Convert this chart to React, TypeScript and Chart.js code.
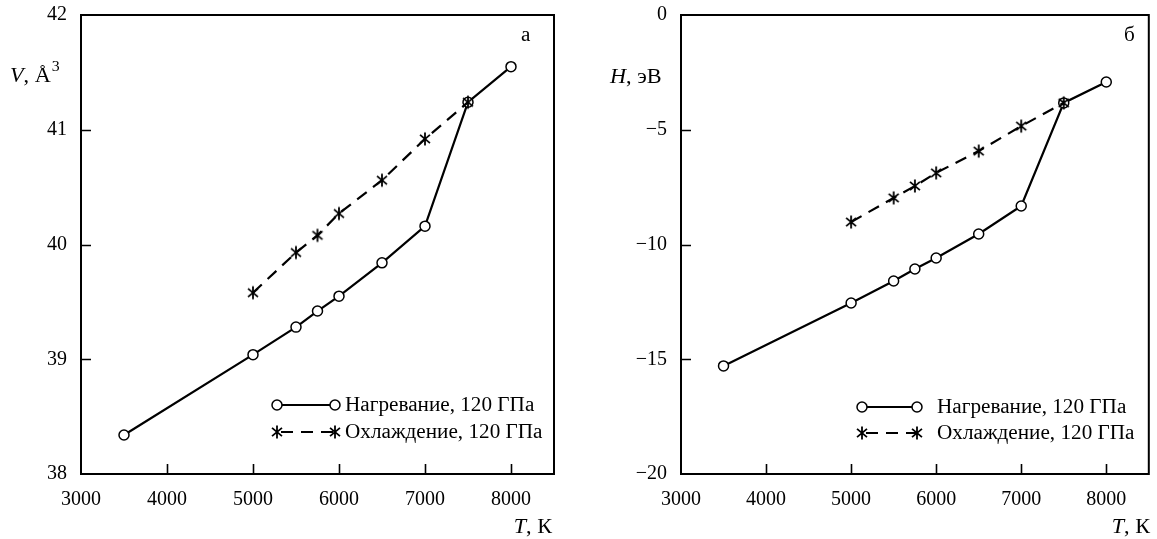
import React, { useEffect, useRef } from "react";
import { Chart, registerables } from "chart.js";

Chart.register(...registerables);

// ---- data ----
const temps = [3500, 5000, 5500, 5750, 6000, 6500, 7000, 7500, 8000];
const heatV = [38.34, 39.04, 39.28, 39.42, 39.55, 39.84, 40.16, 41.24, 41.55];
const coolT = [5000, 5500, 5750, 6000, 6500, 7000, 7500];
const coolV = [39.58, 39.93, 40.08, 40.27, 40.56, 40.92, 41.24];
const heatH = [-15.29, -12.55, -11.59, -11.07, -10.59, -9.54, -8.32, -3.83, -2.92];
const coolH = [-9.02, -7.97, -7.45, -6.88, -5.93, -4.84, -3.83];

const xTicks = [3000, 4000, 5000, 6000, 7000, 8000];
const vTicks = [38, 39, 40, 41, 42];
const hTicks = [-20, -15, -10, -5, 0];

const heatLabel = "Нагревание, 120 ГПа";
const coolLabel = "Охлаждение, 120 ГПа";

const FONT = "Liberation Serif, Times New Roman, serif";
const SX = 1.06;

function makeStar(): HTMLCanvasElement {
  const c = document.createElement("canvas");
  c.width = 16;
  c.height = 16;
  const g = c.getContext("2d")!;
  g.strokeStyle = "#000";
  g.lineWidth = 1.8;
  const cx = 8, cy = 8, r = 6.5;
  const angles = [90, 40, 140];
  g.beginPath();
  for (const a of angles) {
    const rad = (a * Math.PI) / 180;
    g.moveTo(cx - r * Math.cos(rad), cy - r * Math.sin(rad));
    g.lineTo(cx + r * Math.cos(rad), cy + r * Math.sin(rad));
  }
  g.stroke();
  return c;
}

// text drawn with a slight horizontal stretch, like the reference
function stext(ctx: CanvasRenderingContext2D, s: string, x: number, y: number, font: string, align: "left" | "right" = "left") {
  ctx.save();
  ctx.font = font;
  const w = ctx.measureText(s).width * SX;
  const x0 = align === "left" ? x : x - w;
  ctx.translate(x0, y);
  ctx.scale(SX, 1);
  ctx.textAlign = "left";
  ctx.fillText(s, 0, 0);
  ctx.restore();
  return w;
}

type PanelCfg = {
  width: number;
  areaLeft: number;
  areaRight: number;
  heat: number[];
  cool: number[];
  yTicks: number[];
  drawTitle: (ctx: CanvasRenderingContext2D) => void;
  letter: string;
  letterX: number;
  tX: number;
  legend: { x1: number; x2: number; tx: number; y1: number; y2: number };
};

function drawCircle(ctx: CanvasRenderingContext2D, x: number, y: number) {
  ctx.save();
  ctx.beginPath();
  ctx.arc(x, y, 5, 0, Math.PI * 2);
  ctx.fillStyle = "#fff";
  ctx.fill();
  ctx.lineWidth = 1.5;
  ctx.strokeStyle = "#000";
  ctx.stroke();
  ctx.restore();
}

function Panel({ cfg }: { cfg: PanelCfg }) {
  const ref = useRef<HTMLCanvasElement>(null);
  useEffect(() => {
    const star = makeStar();
    const H = 539;
    const fmt = (v: number) => String(v).replace("-", "−");
    const framePlugin = {
      id: "frame",
      afterDraw(chart: any) {
        const ctx: CanvasRenderingContext2D = chart.ctx;
        const a = chart.chartArea;
        const xs = chart.scales.x;
        const ys = chart.scales.y;
        ctx.save();
        ctx.strokeStyle = "#000";
        ctx.lineWidth = 2;
        ctx.strokeRect(a.left, a.top, a.right - a.left, a.bottom - a.top);
        ctx.lineWidth = 1.6;
        ctx.beginPath();
        for (const v of xTicks) {
          const px = Math.round(xs.getPixelForValue(v)) + 0.5;
          if (px <= a.left + 2 || px >= a.right - 2) continue;
          ctx.moveTo(px, a.bottom);
          ctx.lineTo(px, a.bottom - 10);
        }
        for (const v of cfg.yTicks) {
          const py = Math.round(ys.getPixelForValue(v)) + 0.5;
          if (py <= a.top + 2 || py >= a.bottom - 2) continue;
          ctx.moveTo(a.left, py);
          ctx.lineTo(a.left + 10, py);
        }
        ctx.stroke();
        // titles
        ctx.fillStyle = "#000";
        ctx.textBaseline = "alphabetic";
        cfg.drawTitle(ctx);
        stext(ctx, cfg.letter, cfg.letterX, 41, `20px ${FONT}`);
        // T, K
        const w = stext(ctx, ", К", cfg.tX, 533, `21px ${FONT}`, "right");
        stext(ctx, "T", cfg.tX - w, 533, `italic 21px ${FONT}`, "right");
        // legend
        const L = cfg.legend;
        ctx.lineWidth = 2.2;
        ctx.beginPath();
        ctx.moveTo(L.x1, L.y1);
        ctx.lineTo(L.x2, L.y1);
        ctx.stroke();
        drawCircle(ctx, L.x1, L.y1);
        drawCircle(ctx, L.x2, L.y1);
        ctx.save();
        ctx.setLineDash([12, 8]);
        ctx.beginPath();
        ctx.moveTo(L.x1 + 4, L.y2);
        ctx.lineTo(L.x2, L.y2);
        ctx.stroke();
        ctx.restore();
        ctx.drawImage(star, L.x1 - 8, L.y2 - 8);
        ctx.drawImage(star, L.x2 - 8, L.y2 - 8);
        ctx.textBaseline = "middle";
        stext(ctx, heatLabel, L.tx, L.y1 + 1, `20px ${FONT}`);
        stext(ctx, coolLabel, L.tx, L.y2 + 1, `20px ${FONT}`);
        ctx.restore();
      },
    };
    const chart = new Chart(ref.current!, {
      type: "line",
      data: {
        datasets: [
          {
            label: heatLabel,
            data: temps.map((t, i) => ({ x: t, y: cfg.heat[i] })),
            borderColor: "#000",
            borderWidth: 2.2,
            pointStyle: "circle",
            pointRadius: 5,
            pointBorderWidth: 1.5,
            pointBackgroundColor: "#fff",
            pointBorderColor: "#000",
            order: 2,
          },
          {
            label: coolLabel,
            data: coolT.map((t, i) => ({ x: t, y: cfg.cool[i] })),
            borderColor: "#000",
            borderWidth: 2.2,
            borderDash: [12, 8],
            pointStyle: star as any,
            pointRadius: 6,
            order: 1,
          },
        ],
      },
      options: {
        responsive: false,
        animation: false,
        devicePixelRatio: 1,
        layout: { padding: { top: 15, right: cfg.width - cfg.areaRight, left: 0, bottom: 0 } },
        plugins: { legend: { display: false }, tooltip: { enabled: false } },
        scales: {
          x: {
            type: "linear",
            min: 3000,
            max: 8500,
            grid: { display: false, drawTicks: false },
            border: { display: true, color: "#000", width: 2 },
            afterBuildTicks: (s: any) => {
              s.ticks = xTicks.map((v) => ({ value: v }));
            },
            afterFit: (s: any) => {
              s.height = H - 474;
              s.paddingLeft = 0;
              s.paddingRight = 0;
            },
            ticks: {
              color: "#000",
              font: { family: FONT, size: 20 },
              padding: 14,
              maxRotation: 0,
              autoSkip: false,
              callback: (v: any) => String(v),
            },
          },
          y: {
            type: "linear",
            min: cfg.yTicks[0],
            max: cfg.yTicks[cfg.yTicks.length - 1],
            grid: { display: false, drawTicks: false },
            border: { display: true, color: "#000", width: 2 },
            afterBuildTicks: (s: any) => {
              s.ticks = cfg.yTicks.map((v) => ({ value: v }));
            },
            afterFit: (s: any) => {
              s.width = cfg.areaLeft;
              s.paddingTop = 0;
              s.paddingBottom = 0;
            },
            ticks: {
              color: "#000",
              font: { family: FONT, size: 20 },
              padding: 14,
              autoSkip: false,
              callback: (v: any) => fmt(v),
            },
          },
        },
      },
      plugins: [framePlugin],
    });
    return () => chart.destroy();
  }, [cfg]);
  return <canvas ref={ref} width={cfg.width} height={539} style={{ display: "block" }} />;
}

const leftCfg: PanelCfg = {
  width: 580,
  areaLeft: 81,
  areaRight: 554,
  heat: heatV,
  cool: coolV,
  yTicks: vTicks,
  drawTitle: (ctx) => {
    let x = 10;
    x += stext(ctx, "V", x, 82, `italic 21px ${FONT}`);
    x += stext(ctx, ", Å", x, 82, `21px ${FONT}`);
    stext(ctx, "3", x + 1, 71, `15px ${FONT}`);
  },
  letter: "а",
  letterX: 521,
  tX: 552,
  legend: { x1: 277, x2: 335, tx: 345, y1: 405, y2: 432 },
};

const rightCfg: PanelCfg = {
  width: 577,
  areaLeft: 101,
  areaRight: 573,
  heat: heatH,
  cool: coolH,
  yTicks: hTicks,
  drawTitle: (ctx) => {
    let x = 30;
    x += stext(ctx, "H", x, 83, `italic 21px ${FONT}`);
    stext(ctx, ", эВ", x, 83, `21px ${FONT}`);
  },
  letter: "б",
  letterX: 544,
  tX: 570,
  legend: { x1: 282, x2: 337, tx: 357, y1: 407, y2: 433 },
};

export default function App() {
  return (
    <div style={{ position: "absolute", left: 0, top: 0, width: 1157, height: 539, display: "flex", background: "#fff" }}>
      <Panel cfg={leftCfg} />
      <Panel cfg={rightCfg} />
    </div>
  );
}
